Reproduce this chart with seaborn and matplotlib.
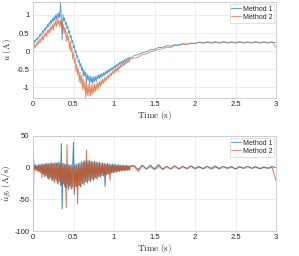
import numpy as np
import pandas as pd
import matplotlib
matplotlib.use("Agg")
import matplotlib.pyplot as plt
import seaborn as sns

# ---------------- data ----------------
t_fine = np.round(np.arange(0, 1.2001, 0.01), 2)       # 121 samples
t_coarse = np.round(np.arange(1.25, 3.0001, 0.05), 2)  # 36 samples
time = np.concatenate([t_fine, t_coarse])

u_m1 = [0.20, 0.19, 0.30, 0.26, 0.35, 0.30, 0.39, 0.35, 0.45, 0.41,
        0.50, 0.45, 0.57, 0.51, 0.62, 0.56, 0.68, 0.62, 0.74, 0.67,
        0.80, 0.72, 0.86, 0.77, 0.91, 0.81, 0.96, 0.85, 1.00, 0.87,
        1.04, 0.90, 1.07, 0.92, 1.35, 0.92, 0.30, 1.01, 0.83, 0.92,
        0.73, 0.81, 0.62, 0.70, 0.50, 0.57, 0.37, 0.44, 0.23, 0.30,
        0.09, 0.16, -0.05, 0.02, -0.19, -0.12, -0.32, -0.24, -0.44, -0.34,
        -0.54, -0.44, -0.70, -0.52, -0.70, -0.58, -0.88, -0.64, -0.81, -0.68,
        -0.94, -0.70, -0.86, -0.71, -0.93, -0.71, -0.84, -0.70, -0.85, -0.68,
        -0.78, -0.65, -0.76, -0.64, -0.74, -0.62, -0.71, -0.60, -0.68, -0.57,
        -0.65, -0.54, -0.62, -0.52, -0.59, -0.49, -0.55, -0.46, -0.52, -0.43,
        -0.49, -0.40, -0.46, -0.37, -0.43, -0.34, -0.40, -0.31, -0.37, -0.28,
        -0.34, -0.26, -0.32, -0.24, -0.29, -0.21, -0.26, -0.19, -0.23, -0.16,
        -0.21,
        -0.12, -0.10, -0.04, -0.02, 0.04, 0.05, 0.10, 0.10, 0.15, 0.14,
        0.18, 0.17, 0.21, 0.19, 0.22, 0.21,
        0.24, 0.22, 0.24, 0.22, 0.24, 0.22, 0.25, 0.22, 0.24, 0.22,
        0.25, 0.22, 0.24, 0.22, 0.25, 0.22, 0.24, 0.22, 0.25, 0.23]

u_m2 = [0.08, 0.05, 0.17, 0.10, 0.22, 0.15, 0.28, 0.20, 0.33, 0.23,
        0.38, 0.30, 0.43, 0.31, 0.48, 0.40, 0.53, 0.39, 0.58, 0.49,
        0.63, 0.51, 0.69, 0.59, 0.74, 0.58, 0.79, 0.68, 0.84, 0.68,
        0.87, 0.74, 0.88, 0.66, 0.86, 0.68, 0.81, 0.49, 0.74, 0.50,
        0.64, 0.27, 0.53, 0.28, 0.41, 0.05, 0.27, -0.03, 0.12, -0.22,
        -0.04, -0.34, -0.20, -0.57, -0.35, -0.66, -0.48, -0.86, -0.59, -0.90,
        -0.68, -1.06, -0.76, -1.09, -0.83, -1.31, -0.88, -1.24, -0.92, -1.25,
        -0.94, -1.24, -0.95, -1.21, -0.94, -1.17, -0.92, -1.13, -0.90, -1.08,
        -0.87, -1.04, -0.84, -0.99, -0.81, -0.94, -0.78, -0.90, -0.74, -0.85,
        -0.71, -0.81, -0.68, -0.76, -0.64, -0.72, -0.60, -0.68, -0.56, -0.63,
        -0.52, -0.60, -0.49, -0.56, -0.45, -0.57, -0.42, -0.49, -0.39, -0.45,
        -0.35, -0.42, -0.32, -0.39, -0.29, -0.35, -0.26, -0.32, -0.24, -0.30,
        -0.22,
        -0.19, -0.17, -0.09, -0.08, -0.02, 0.01, 0.05, 0.06, 0.11, 0.10,
        0.15, 0.15, 0.19, 0.18, 0.22, 0.21,
        0.25, 0.23, 0.26, 0.24, 0.26, 0.24, 0.26, 0.24, 0.26, 0.24,
        0.26, 0.24, 0.26, 0.24, 0.26, 0.24, 0.26, 0.24, 0.26, 0.10]

du_m1 = [25, 8, -2, 4, -4, 3, -5, 5, -6, 4,
         -8, 6, -10, 5, -14, 6, -12, 7, -16, 6,
         -18, 7, -15, 8, -20, 6, -22, 8, -18, 7,
         -25, 9, -22, 8, -28, 38, -65, 7, -26, 6,
         -32, 5, -28, 6, -35, 4, -30, 5, -33, 4,
         40, -42, 5, -30, 6, -34, 7, -28, 8, -30,
         9, -25, 10, -27, 11, -22, 12, -24, 11, -20,
         12, -22, 10, -18, 9, -20, 10, -16, 9, -18,
         8, -14, 9, -15, 7, -12, 8, -13, 7, -30,
         6, -11, 7, -9, 6, -10, 5, -8, 6, -8,
         5, -7, 5, -7, 4, -6, 5, -6, 4, -5,
         4, -5, 4, -5, 3, -4, 4, -4, 3, -4,
         3,
         3, -3, 4, -2, 4, -2, 5, -3, 2, -2,
         3, -2, 2, -2, 3, -1, 2, -2, 2, -1,
         3, -2, 2, -1, 2, -2, 2, -1, 2, -1,
         2, -2, 1, -1, 2, 0]

du_m2 = [-100, -10, 3, -3, 4, -5, 3, -6, 4, -8,
         5, -16, 4, -10, 5, -14, 6, -12, 5, -18,
         6, -16, 5, -20, 6, -18, 7, -24, 6, -20,
         7, -26, 6, -22, 5, -28, 6, -25, 5, -30,
         4, -63, 36, -32, 3, -28, 2, -34, 3, -30,
         2, -36, 3, -30, 4, -57, 4, -28, 5, -30,
         6, -24, 7, -26, 8, -22, 28, -24, 9, -20,
         9, -22, 8, -18, 9, -19, 8, -16, 7, -17,
         7, -14, 6, -15, 6, -12, 5, -13, 5, -11,
         5, -10, 4, -11, 4, -20, 4, -8, 4, -8,
         4, -7, 3, -6, 3, -6, 3, -5, 3, -5,
         3, -5, 3, -4, 3, -4, 3, -4, 2, -4,
         2,
         2, -6, 3, -2, 2, -3, 2, -2, 2, -2,
         2, -2, 2, -1, 2, -2, 1, -1, 2, -2,
         1, -1, 2, -1, 1, -2, 1, -1, 2, -1,
         1, -1, 1, -1, 1, -20]

for arr in (u_m1, u_m2, du_m1, du_m2):
    assert len(arr) == len(time), len(arr)

methods = ["Method 1", "Method 2"]
colors = ["#0072BD", "#D95319"]
xticks = [0, 0.5, 1, 1.5, 2, 2.5, 3]
xticklabels = ["0", "0.5", "1", "1.5", "2", "2.5", "3"]
yticks_top = [-1, -0.5, 0, 0.5, 1]
yticks_bot = [-100, -50, 0, 50]

# ---------------- frames ----------------
def frame(a, b):
    return pd.DataFrame({
        "t": np.concatenate([time, time]),
        "v": np.concatenate([a, b]),
        "Method": [methods[0]] * len(time) + [methods[1]] * len(time),
    })

df_u = frame(u_m1, u_m2)
df_du = frame(du_m1, du_m2)

# ---------------- style ----------------
sns.set_theme(style="white")
plt.rcParams["font.family"] = ["Liberation Sans", "DejaVu Sans"]
plt.rcParams["mathtext.fontset"] = "cm"

fig = plt.figure(figsize=(2.99, 2.56), dpi=100)
W, H = 299, 256
ax1 = fig.add_axes([33 / W, (H - 98) / H, 243 / W, 96 / H])
ax2 = fig.add_axes([33 / W, (H - 231) / H, 243 / W, 95 / H])

for ax, df, ylim, yt, ylab, lw, al in [
    (ax1, df_u, (-1.3, 1.36), yticks_top, r"$u\ (\mathrm{A})$", 0.6, 0.7),
    (ax2, df_du, (-100, 50), yticks_bot, r"$\dot{u}_{fb}\ (\mathrm{A/s})$", 0.7, 0.8),
]:
    sns.lineplot(data=df, x="t", y="v", hue="Method", palette=colors,
                 estimator=None, sort=False, lw=lw, alpha=al, ax=ax)
    ax.set_xlim(0, 3)
    ax.set_ylim(*ylim)
    ax.set_xticks(xticks)
    ax.set_xticklabels(xticklabels)
    ax.set_yticks(yt)
    ax.set_yticklabels([("%g" % v) for v in yt])
    ax.grid(True, color="#e6e6e6", lw=0.5)
    ax.set_axisbelow(True)
    for s in ax.spines.values():
        s.set_color("#c8c8c8")
        s.set_linewidth(0.6)
    ax.tick_params(axis="both", labelsize=5.5, colors="#262626", length=0, pad=2.5)
    ax.set_xlabel(r"$\mathrm{Time\ (s)}$", fontsize=6.5, color="#262626", labelpad=0.5)
    ax.set_ylabel(ylab, fontsize=6.5, color="#262626")
    ax.yaxis.set_label_coords(-0.08, 0.5)
    leg = ax.legend(loc="upper right", fontsize=5, frameon=True, fancybox=False,
                    handlelength=1.4, handletextpad=0.2, borderpad=0.25,
                    labelspacing=0.15, borderaxespad=0.3)
    leg.get_frame().set_edgecolor("#c8c8c8")
    leg.get_frame().set_linewidth(0.5)
    for line in leg.get_lines():
        line.set_linewidth(0.8)
        line.set_alpha(0.6)

fig.savefig("out.png", dpi=100)
